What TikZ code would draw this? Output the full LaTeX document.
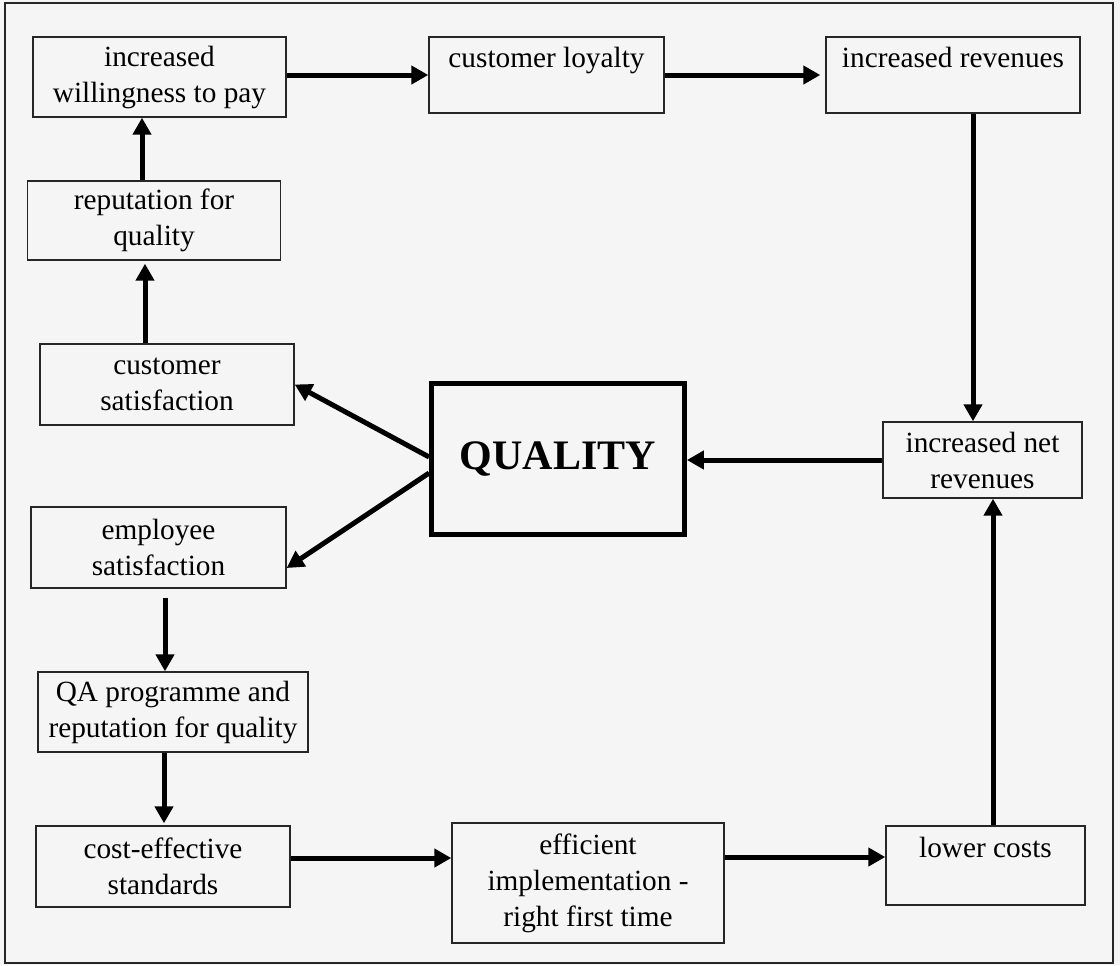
\documentclass[tikz,border=0pt]{standalone}
\usepackage{fontspec}
\setmainfont{Liberation Serif}
\usetikzlibrary{arrows.meta}
\begin{document}
\begin{tikzpicture}[x=0.5pt,y=-0.5pt,
  box/.style={draw=black!85, line width=0.7pt, inner sep=0pt, align=center,
              font=\fontsize{14.65}{18}\selectfont},
  core/.style={draw=black, line width=2.4pt, inner sep=0pt,
               font=\fontsize{21}{25}\selectfont\bfseries},
  arr/.style={line width=2.5pt, -{Triangle[length=8.5pt,width=9pt]}}
]
% page and frame
\fill[black!4] (0,0) rectangle (1120,965);
\useasboundingbox (0,0) rectangle (1120,965);
\draw[line width=1pt, black!85] (5,3) rectangle (1113,963);

% boxes
\node[box, minimum width=126.5pt, minimum height=40pt] (wtp) at (159.5,77) {increased\\willingness to pay};
\node[box, minimum width=117.5pt, minimum height=38pt] (loyal) at (546.5,75) {customer loyalty\\~};
\node[box, minimum width=127pt, minimum height=38pt] (rev) at (953,75) {increased revenues\\~};
\node[box, minimum width=126.75pt, minimum height=39.5pt] (rep) at (154,220.5) {reputation for\\quality};
\node[box, minimum width=127pt, minimum height=40.5pt] (csat) at (167,384.5) {customer\\satisfaction};
\node[core, minimum width=126.5pt, minimum height=75.5pt] (qual) at (558,459) {QUALITY};
\node[box, minimum width=99.5pt, minimum height=38pt] (netrev) at (982.5,460) {increased net\\revenues};
\node[box, minimum width=127.5pt, minimum height=40.5pt] (esat) at (158.5,547.5) {employee\\satisfaction};
\node[box, minimum width=135pt, minimum height=40pt] (qa) at (173,712) {QA programme and\\reputation for quality};
\node[box, minimum width=127pt, minimum height=40.5pt] (cost) at (163,866.5) {cost-effective\\standards};
\node[box, minimum width=136pt, minimum height=60pt] (eff) at (588,883) {efficient\\implementation -\\right first time};
\node[box, minimum width=99.5pt, minimum height=39.5pt] (low) at (985.5,865.5) {lower costs\\~};

% connectors
\draw[arr] ([yshift=1pt]wtp.east) -- ([yshift=1pt]wtp.east -| loyal.west);
\draw[arr] (loyal.east) -- ([xshift=-2.5pt]rev.west);
\draw[arr] ([xshift=10pt]rev.south) -- ([xshift=10pt]rev.south |- netrev.north);
\draw[arr] ([xshift=3.75pt]low.north) -- ([xshift=3.75pt]low.north |- netrev.south);
\draw[arr] (netrev.west) -- (netrev.west -| qual.east);
\draw[arr] ([yshift=1pt]qual.west) -- (csat.east);
\draw[arr] ([yshift=-7pt]qual.west) -- ([yshift=-10.25pt]esat.east);
\draw[arr] ([xshift=-6pt]rep.north) -- ([xshift=-6pt]rep.north |- wtp.south);
\draw[arr] ([xshift=-11pt]csat.north) -- ([xshift=-11pt,yshift=-1.5pt]csat.north |- rep.south);
\draw[arr, shorten <=4.5pt] ([xshift=3.25pt]esat.south) -- ([xshift=3.25pt]esat.south |- qa.north);
\draw[arr] ([xshift=-4.5pt]qa.south) -- ([xshift=-4.5pt,yshift=1pt]qa.south |- cost.north);
\draw[arr] ([yshift=4.25pt]cost.east) -- ([yshift=4.25pt]cost.east -| eff.west);
\draw[arr] ([yshift=13pt]eff.east) -- ([yshift=13pt]eff.east -| low.west);
\end{tikzpicture}
\end{document}
